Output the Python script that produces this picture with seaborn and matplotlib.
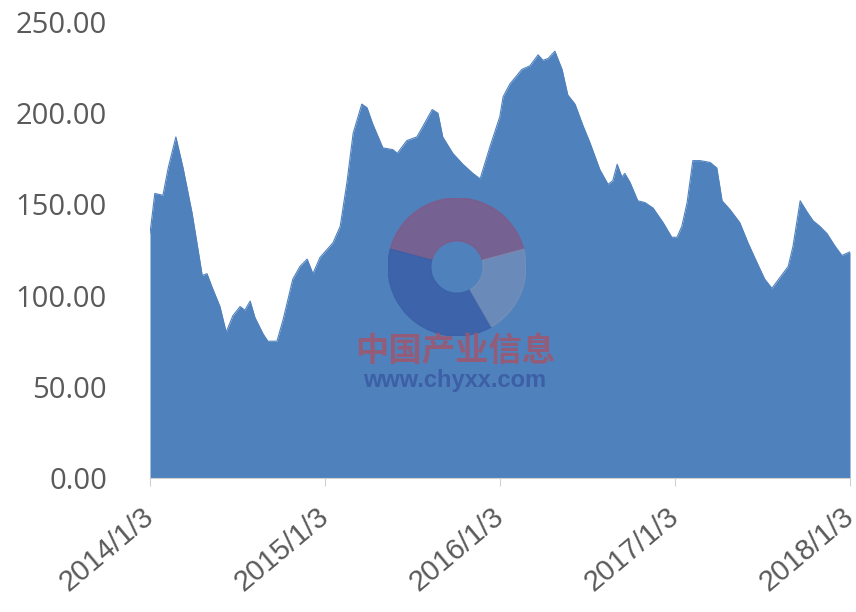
import pandas as pd
import matplotlib.pyplot as plt
import seaborn as sns
from matplotlib.patches import Wedge

dates = ['2014-01-03', '2014-01-13', '2014-01-30', '2014-02-10', '2014-02-26', '2014-03-13',
         '2014-04-01', '2014-04-22', '2014-05-02', '2014-05-12', '2014-05-29', '2014-06-11',
         '2014-06-25', '2014-07-10', '2014-07-20', '2014-07-31', '2014-08-10', '2014-08-27',
         '2014-09-06', '2014-09-25', '2014-10-08', '2014-10-28', '2014-11-12', '2014-11-27',
         '2014-12-09', '2014-12-24', '2015-01-20', '2015-02-04', '2015-02-18', '2015-03-03',
         '2015-03-21', '2015-04-01', '2015-04-13', '2015-05-04', '2015-05-25', '2015-06-03',
         '2015-06-23', '2015-07-14', '2015-07-27', '2015-08-15', '2015-08-27', '2015-09-06',
         '2015-09-27', '2015-10-18', '2015-11-08', '2015-11-23', '2015-12-14', '2016-01-03',
         '2016-01-10', '2016-01-24', '2016-02-18', '2016-03-06', '2016-03-23', '2016-04-02',
         '2016-04-13', '2016-04-27', '2016-05-12', '2016-05-24', '2016-06-08', '2016-06-25',
         '2016-07-09', '2016-07-30', '2016-08-16', '2016-08-26', '2016-09-04', '2016-09-14',
         '2016-09-20', '2016-10-01', '2016-10-17', '2016-11-01', '2016-11-18', '2016-12-09',
         '2016-12-27', '2017-01-07', '2017-01-17', '2017-01-28', '2017-02-09', '2017-02-24',
         '2017-03-17', '2017-03-31', '2017-04-11', '2017-04-28', '2017-05-18', '2017-06-04',
         '2017-06-23', '2017-07-09', '2017-07-24', '2017-08-10', '2017-08-27', '2017-09-06',
         '2017-09-21', '2017-10-05', '2017-10-18', '2017-11-01', '2017-11-16', '2017-12-03',
         '2017-12-17', '2018-01-03']
values = [134, 156, 155, 170, 187, 170,
          145, 111, 112, 105, 94, 80,
          89, 94, 92, 97, 88, 79,
          75, 75, 87, 109, 116, 120,
          112, 121, 129, 138, 162, 189,
          205, 203, 194, 181, 180, 178,
          185, 187, 193, 202, 200, 187,
          178, 172, 167, 164, 182, 198,
          209, 216, 224, 226, 232, 229,
          230, 234, 224, 210, 205, 193,
          184, 169, 161, 163, 172, 165,
          167, 162, 152, 151, 148, 140,
          132, 132, 138, 151, 174, 174,
          173, 170, 152, 147, 140, 129,
          118, 109, 104, 110, 116, 127,
          152, 146, 141, 138, 134, 127,
          122, 124]
tick_dates = ['2014-01-03', '2015-01-03', '2016-01-03', '2017-01-03', '2018-01-03']
tick_labels = ['2014/1/3', '2015/1/3', '2016/1/3', '2017/1/3', '2018/1/3']
y_ticks = [0, 50, 100, 150, 200, 250]

df = pd.DataFrame({'date': pd.to_datetime(dates), 'value': values})

sns.set_style('white')
plt.rcParams['font.family'] = ['Liberation Sans', 'Noto Sans CJK SC', 'DejaVu Sans']

fig = plt.figure(figsize=(8.56, 6.12), dpi=100)
ax = fig.add_axes([150 / 856, 1 - 478 / 612, 700 / 856, 456 / 612])

color = '#4F81BD'
sns.lineplot(data=df, x='date', y='value', ax=ax, color=color, linewidth=0.8)
ax.fill_between(df['date'], df['value'], 0, color=color, linewidth=0)

ax.set_xlim(pd.Timestamp(tick_dates[0]), pd.Timestamp(tick_dates[-1]))
ax.set_ylim(0, 250)
ax.set_xticks(pd.to_datetime(tick_dates))
ax.set_xticklabels(tick_labels, rotation=40, ha='right', va='center', rotation_mode='anchor')
ax.set_yticks(y_ticks)
ax.set_yticklabels(['%.2f' % v for v in y_ticks], family='Open Sans')
ax.set_xlabel('')
ax.set_ylabel('')

for s in ['top', 'right', 'left']:
    ax.spines[s].set_visible(False)
ax.spines['bottom'].set_color('#d0d0d0')
ax.tick_params(axis='x', length=6, color='#d0d0d0', labelsize=21, labelcolor='#5a5a5a', pad=19, direction='out', bottom=True)
ax.tick_params(axis='y', length=0, labelsize=21, labelcolor='#5a5a5a', pad=31)

# watermark
cx, cy, r = 457 / 856, 1 - 267 / 612, 69
wm = fig.add_axes([cx - r / 856, cy - r / 612, 2 * r / 856, 2 * r / 612])
wm.set_xlim(-1, 1)
wm.set_ylim(-1, 1)
wm.axis('off')
wm.add_patch(Wedge((0, 0), 1, 15, 165, width=0.62, color='#7f5a88', alpha=0.8))
wm.add_patch(Wedge((0, 0), 1, 165, 300, width=0.62, color='#3a5fa8', alpha=0.85))
wm.add_patch(Wedge((0, 0), 1, 300, 375, width=0.62, color='#7d93b8', alpha=0.6))
fig.text(455 / 856, 1 - 351 / 612, '中国产业信息', ha='center', va='center', fontsize=24,
         color='#a0566e', alpha=0.85, fontweight='bold', family=['Noto Sans CJK SC'])
fig.text(455 / 856, 1 - 380 / 612, 'www.chyxx.com', ha='center', va='center', fontsize=17,
         color='#3c5fa6', fontweight='bold')

plt.savefig('out.png', dpi=100)
